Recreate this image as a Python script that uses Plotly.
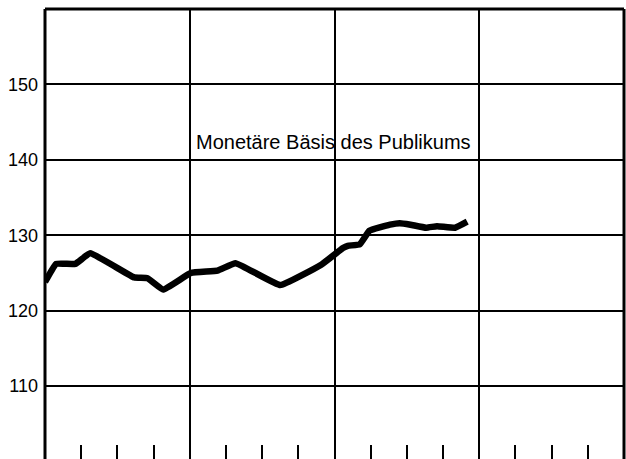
import plotly.graph_objects as go

# month index (0 = start of first year) and index values
months = [0, 0.93, 2.5, 3.75, 7.4, 8.5, 9.8, 12.1, 14.3, 15.8, 19.5, 22.9,
          24.7, 25.1, 26.1, 26.9, 28.6, 29.4, 30.3, 31.6, 32.5, 34.0, 35.0]
values = [123.8, 126.2, 126.2, 127.6, 124.4, 124.3, 122.8, 125.0, 125.3, 126.3,
          123.4, 126.1, 128.3, 128.6, 128.8, 130.6, 131.4, 131.6, 131.4, 131.0,
          131.2, 131.0, 131.8]
y_ticks = [110, 120, 130, 140, 150]
year_lines = [0, 12, 24, 36, 48]
label = "Monetäre Bäsis des Publikums"

fig = go.Figure()
fig.add_trace(go.Scatter(x=months, y=values, mode="lines",
                         line=dict(color="black", width=6.5, shape="spline", smoothing=0.3),
                         hoverinfo="skip", showlegend=False))

fig.add_annotation(x=23.9, y=142.3, text=label, showarrow=False,
                   xanchor="center", yanchor="middle",
                   font=dict(family="Liberation Sans, Arial, sans-serif", size=20, color="black"))

# frame: left, top, right
for x0, y0, x1, y1 in [(0, 0, 0, 1), (0, 1, 1, 1), (1, 0, 1, 1)]:
    fig.add_shape(type="line", xref="paper", yref="paper", x0=x0, y0=y0, x1=x1, y1=y1,
                  line=dict(color="black", width=3))

fig.update_layout(
    width=626, height=459,
    margin=dict(l=45, r=2, t=9, b=0, autoexpand=False),
    paper_bgcolor="white", plot_bgcolor="white",
    xaxis=dict(range=[0, 48], tickvals=year_lines, showticklabels=False,
               automargin=False,
               showgrid=True, gridcolor="black", gridwidth=1.5,
               zeroline=False, showline=False, ticks="",
               minor=dict(dtick=3, tick0=0, ticks="inside", ticklen=14,
                          tickwidth=1.5, tickcolor="black", showgrid=False)),
    yaxis=dict(range=[100.33, 160], tickvals=y_ticks, automargin=False,
               showgrid=True, gridcolor="black", gridwidth=1.5,
               zeroline=False, showline=False, ticks="",
               ticklabelstandoff=6,
               tickfont=dict(family="Liberation Sans, Arial, sans-serif", size=18, color="black")),
)

fig.write_html("out.html", config={"displayModeBar": False},
               post_script="document.body.style.margin='0';document.body.style.overflow='hidden';")
